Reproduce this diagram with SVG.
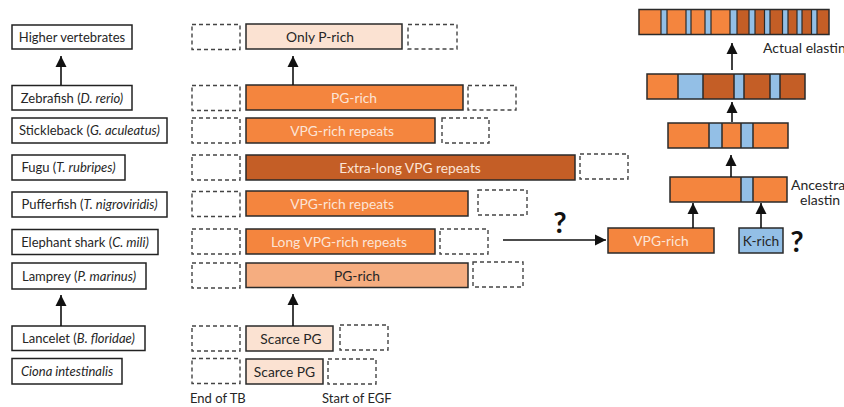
<svg xmlns="http://www.w3.org/2000/svg" width="844" height="407" viewBox="0 0 844 407">
<style>
.lab{fill:#fff;stroke:#222;stroke-width:1.5}
.dash{fill:none;stroke:#444;stroke-width:1.4;stroke-dasharray:4 3}
.seg{stroke:#2a2a2a;stroke-width:1.5}
.or{fill:#F4853E}
.dk{fill:#C45E26}
.pale{fill:#FBE2D2}
.mid{fill:#F5AD80}
.bl{fill:#93BFE6}
text{font-family:Lato,"Open Sans","Liberation Sans",sans-serif}
.t1{font-size:13px;fill:#262626;text-anchor:middle}
.t2{font-size:13.8px;text-anchor:middle}
.dt{fill:#262626}
.lt{fill:#FCE4D6}
.q{font-size:29px;font-weight:bold;fill:#111;text-anchor:middle}
.arr{stroke:#111;stroke-width:1.6;fill:none;marker-end:url(#ah)}
</style>
<defs>
<marker id="ah" viewBox="0 0 10 10" refX="10" refY="5" markerWidth="11" markerHeight="12" markerUnits="userSpaceOnUse" orient="auto">
<path d="M0,0 L10,5 L0,10 z" fill="#111"/>
</marker>
</defs>

<g id="species">
<g id="sp-higher"><rect class="lab" x="12" y="25" width="120" height="24"/><text class="t1" x="72" y="42">Higher vertebrates</text></g>
<g id="sp-zebrafish"><rect class="lab" x="12" y="85.5" width="120" height="24.5"/><text class="t1" x="72" y="102.5">Zebrafish (<tspan font-style="italic">D. rerio)</tspan></text></g>
<g id="sp-stickleback"><rect class="lab" x="12" y="118" width="155" height="25"/><text class="t1" x="89.5" y="135">Stickleback (<tspan font-style="italic">G. aculeatus)</tspan></text></g>
<g id="sp-fugu"><rect class="lab" x="12" y="155" width="113" height="25"/><text class="t1" x="68.5" y="172">Fugu (<tspan font-style="italic">T. rubripes)</tspan></text></g>
<g id="sp-pufferfish"><rect class="lab" x="12" y="192" width="155" height="25"/><text class="t1" x="89.5" y="209">Pufferfish (<tspan font-style="italic">T. nigroviridis)</tspan></text></g>
<g id="sp-elephant"><rect class="lab" x="12" y="229.5" width="146" height="25"/><text class="t1" x="85" y="246.5">Elephant shark (<tspan font-style="italic">C. mili)</tspan></text></g>
<g id="sp-lamprey"><rect class="lab" x="12" y="263" width="134" height="26"/><text class="t1" x="79" y="280.5">Lamprey (<tspan font-style="italic">P. marinus)</tspan></text></g>
<g id="sp-lancelet"><rect class="lab" x="12" y="326" width="133" height="24.5"/><text class="t1" x="78.5" y="343">Lancelet (<tspan font-style="italic">B. floridae)</tspan></text></g>
<g id="sp-ciona"><rect class="lab" x="12" y="358.5" width="110" height="25.5"/><text class="t1" x="67" y="376" font-style="italic">Ciona intestinalis</text></g>
</g>

<g id="dashed-ends">
<rect class="dash" x="192" y="24.5" width="48" height="25"/>
<rect class="dash" x="408" y="24.5" width="49" height="24.5"/>
<rect class="dash" x="192" y="85.5" width="48" height="25"/>
<rect class="dash" x="468" y="85.5" width="48" height="24.5"/>
<rect class="dash" x="192" y="118" width="48" height="25"/>
<rect class="dash" x="442" y="118" width="47" height="25"/>
<rect class="dash" x="192" y="155" width="48" height="25"/>
<rect class="dash" x="580" y="154" width="48" height="25"/>
<rect class="dash" x="192" y="191.5" width="48" height="25"/>
<rect class="dash" x="478" y="190" width="49" height="25"/>
<rect class="dash" x="192" y="229" width="48" height="25"/>
<rect class="dash" x="440" y="229" width="48" height="25"/>
<rect class="dash" x="192" y="263" width="48" height="25"/>
<rect class="dash" x="473" y="262" width="50" height="25"/>
<rect class="dash" x="192" y="326" width="48" height="25"/>
<rect class="dash" x="340" y="325" width="48" height="25"/>
<rect class="dash" x="192" y="358.5" width="48" height="25"/>
<rect class="dash" x="328" y="359" width="48" height="25"/>
</g>

<g id="segments">
<g id="seg-onlyP"><rect class="seg pale" x="246" y="24" width="156" height="25"/><text class="t2 dt" x="320" y="41.5">Only P-rich</text></g>
<g id="seg-zebra"><rect class="seg or" x="246" y="85" width="217" height="25"/><text class="t2 lt" x="354" y="102.5">PG-rich</text></g>
<g id="seg-stickle"><rect class="seg or" x="246" y="118" width="189" height="25"/><text class="t2 lt" x="342" y="135.5">VPG-rich repeats</text></g>
<g id="seg-fugu"><rect class="seg dk" x="246" y="155" width="329" height="25"/><text class="t2 lt" x="410" y="172.5">Extra-long VPG repeats</text></g>
<g id="seg-puffer"><rect class="seg or" x="246" y="191" width="222" height="25"/><text class="t2 lt" x="342" y="208.5">VPG-rich repeats</text></g>
<g id="seg-elephant"><rect class="seg or" x="246" y="229" width="189" height="25"/><text class="t2 lt" x="339" y="246.5">Long VPG-rich repeats</text></g>
<g id="seg-lamprey"><rect class="seg mid" x="246" y="263" width="222" height="24.5"/><text class="t2 dt" x="357" y="280.5">PG-rich</text></g>
<g id="seg-lancelet"><rect class="seg pale" x="246" y="326" width="87" height="25"/><text class="t2 dt" x="291" y="343.5" font-size="14.4">Scarce PG</text></g>
<g id="seg-ciona"><rect class="seg pale" x="246" y="359" width="77" height="25"/><text class="t2 dt" x="284.5" y="376.5" font-size="14.4">Scarce PG</text></g>
</g>

<g id="axis-labels">
<text x="190" y="403" font-size="13" fill="#262626">End of TB</text>
<text x="322" y="403" font-size="13" fill="#262626">Start of EGF</text>
</g>

<g id="elastin">
<g id="vpg-rich"><rect class="seg or" x="608" y="228" width="106" height="25"/><text class="t2 lt" x="661" y="245.5">VPG-rich</text></g>
<g id="k-rich"><rect class="seg bl" x="739" y="228" width="44" height="25"/><text class="t2 dt" x="761" y="245.5">K-rich</text></g>
<g id="ancestral">
<rect class="or" x="670" y="177" width="117" height="25"/>
<rect class="bl" x="741" y="177" width="12" height="25"/>
<path d="M741,177 V202 M753,177 V202" stroke="#2a2a2a" stroke-width="1.5"/>
<rect x="670" y="177" width="117" height="25" fill="none" stroke="#2a2a2a" stroke-width="1.5"/>
<text x="791" y="190" font-size="14" fill="#262626">Ancestral</text>
<text x="800" y="205" font-size="14" fill="#262626">elastin</text>
</g>
<g id="stage3">
<rect class="or" x="668" y="123" width="120" height="25"/>
<rect class="bl" x="709" y="123" width="13" height="25"/>
<rect class="bl" x="741" y="123" width="12" height="25"/>
<path d="M709,123 V148 M722,123 V148 M741,123 V148 M753,123 V148" stroke="#2a2a2a" stroke-width="1.5"/>
<rect x="668" y="123" width="120" height="25" fill="none" stroke="#2a2a2a" stroke-width="1.5"/>
</g>
<g id="stage2">
<rect class="or" x="647" y="74" width="31" height="25"/>
<rect class="bl" x="678" y="74" width="25" height="25"/>
<rect class="dk" x="703" y="74" width="31" height="25"/>
<rect class="bl" x="734" y="74" width="10" height="25"/>
<rect class="dk" x="744" y="74" width="26" height="25"/>
<rect class="bl" x="770" y="74" width="10" height="25"/>
<rect class="dk" x="780" y="74" width="25" height="25"/>
<path d="M678,74 V99 M703,74 V99 M734,74 V99 M744,74 V99 M770,74 V99 M780,74 V99" stroke="#2a2a2a" stroke-width="1.5"/>
<rect x="647" y="74" width="158" height="25" fill="none" stroke="#2a2a2a" stroke-width="1.5"/>
</g>
<g id="actual">
<rect class="or" x="639" y="9.5" width="98" height="25"/>
<rect class="dk" x="737" y="9.5" width="92" height="25"/>
<rect class="bl" x="661" y="9.5" width="6" height="25"/>
<rect class="bl" x="686" y="9.5" width="5" height="25"/>
<rect class="bl" x="705" y="9.5" width="6" height="25"/>
<rect class="bl" x="730" y="9.5" width="7" height="25"/>
<rect class="bl" x="749" y="9.5" width="6" height="25"/>
<rect class="bl" x="764.5" y="9.5" width="5.5" height="25"/>
<rect class="bl" x="782.5" y="9.5" width="5.5" height="25"/>
<rect class="bl" x="797" y="9.5" width="5" height="25"/>
<rect class="bl" x="811.5" y="9.5" width="5.5" height="25"/>
<path d="M661,9.5 V34.5 M667,9.5 V34.5 M686,9.5 V34.5 M691,9.5 V34.5 M705,9.5 V34.5 M711,9.5 V34.5 M730,9.5 V34.5 M737,9.5 V34.5 M749,9.5 V34.5 M755,9.5 V34.5 M764.5,9.5 V34.5 M770,9.5 V34.5 M782.5,9.5 V34.5 M788,9.5 V34.5 M797,9.5 V34.5 M802,9.5 V34.5 M811.5,9.5 V34.5 M817,9.5 V34.5" stroke="#2a2a2a" stroke-width="1.2"/>
<rect x="639" y="9.5" width="190" height="25" fill="none" stroke="#2a2a2a" stroke-width="1.5"/>
<text x="763" y="53" font-size="14" fill="#262626">Actual elastin</text>
</g>
</g>

<g id="connectors">
<line class="arr" x1="61" y1="85" x2="61" y2="56"/>
<line class="arr" x1="61" y1="326" x2="61" y2="295"/>
<line class="arr" x1="293" y1="85" x2="293" y2="56"/>
<line class="arr" x1="293" y1="326" x2="293" y2="294"/>
<line class="arr" x1="503" y1="240" x2="606" y2="240"/>
<line class="arr" x1="693" y1="228" x2="693" y2="203"/>
<line class="arr" x1="761" y1="228" x2="761" y2="203"/>
<line class="arr" x1="731" y1="177" x2="731" y2="155"/>
<line class="arr" x1="732" y1="122" x2="732" y2="102"/>
<line class="arr" x1="732" y1="70" x2="732" y2="43"/>
</g>

<g id="question-marks">
<text class="q" x="560" y="233">?</text>
<text class="q" x="797" y="252">?</text>
</g>
</svg>
